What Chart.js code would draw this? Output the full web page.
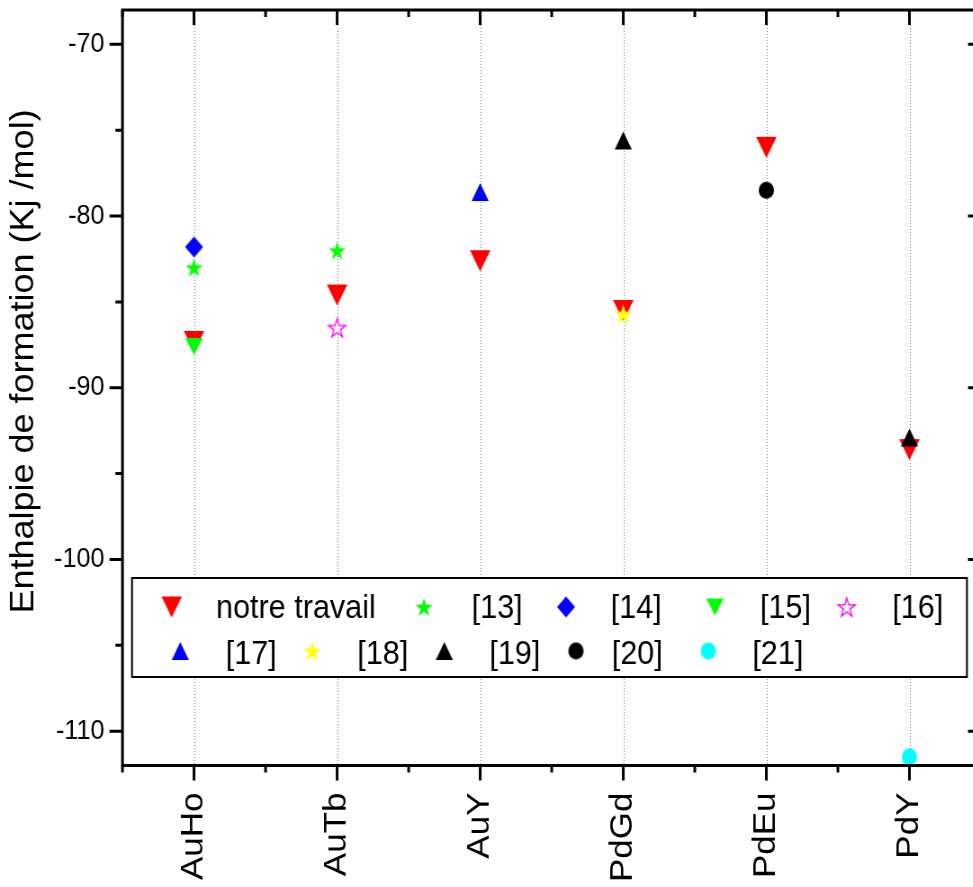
<!DOCTYPE html>
<html>
<head>
<meta charset="utf-8">
<title>Enthalpie de formation</title>
<script src="https://cdn.jsdelivr.net/npm/chart.js@4.4.1/dist/chart.umd.min.js"></script>
<style>
  html, body { margin: 0; padding: 0; background: #fff; overflow: hidden; }
  /* the original figure is squeezed horizontally, so the whole canvas is too */
  #wrap { width: 1100px; height: 887px; transform: scaleX(0.9); transform-origin: 0 0; }
  canvas { display: block; background: #fff; }
</style>
</head>
<body>
<div id="wrap"><canvas id="chart" width="1100" height="887"></canvas></div>
<script>
const categories = ["AuHo", "AuTb", "AuY", "PdGd", "PdEu", "PdY"];
const yTicks = [-110, -100, -90, -80, -70];

// values per category, null = no value
const notreTravail = [-87.3, -84.6, -82.6, -85.5, -76.0, -93.6];
const ref13 = [-83.0, -82.0, null, null, null, null];
const ref14 = [-81.8, null, null, null, null, null];
const ref15 = [-87.6, null, null, null, null, null];
const ref16 = [null, -86.5, null, null, null, null];
const ref17 = [null, null, -78.6, null, null, null];
const ref18 = [null, null, null, -85.7, null, null];
const ref19 = [null, null, null, -75.6, null, -92.9];
const ref20 = [null, null, null, null, -78.5, null];
const ref21 = [null, null, null, null, null, -111.5];

const FONT = "'Liberation Sans', Arial, sans-serif";

// little canvases used as point styles
function sprite(w, h, draw) {
  const c = document.createElement("canvas");
  c.width = Math.ceil(w) + 4;
  c.height = Math.ceil(h) + 4;
  const g = c.getContext("2d");
  g.translate(c.width / 2, c.height / 2);
  draw(g);
  return c;
}
function triDown(w, h, color) {
  return sprite(w, h, g => {
    g.beginPath();
    g.moveTo(-w / 2, -h / 2); g.lineTo(w / 2, -h / 2); g.lineTo(0, h / 2);
    g.closePath(); g.fillStyle = color; g.fill();
  });
}
function triUp(w, h, color) {
  return sprite(w, h, g => {
    g.beginPath();
    g.moveTo(-w / 2, h / 2); g.lineTo(w / 2, h / 2); g.lineTo(0, -h / 2);
    g.closePath(); g.fillStyle = color; g.fill();
  });
}
function diamond(w, h, color) {
  return sprite(w, h, g => {
    g.beginPath();
    g.moveTo(0, -h / 2); g.lineTo(w / 2, 0); g.lineTo(0, h / 2); g.lineTo(-w / 2, 0);
    g.closePath(); g.fillStyle = color; g.fill();
  });
}
function star(R, color, hollow) {
  return sprite(2 * R, 2 * R, g => {
    const shift = 0.0955 * R; // centre the bounding box
    g.beginPath();
    for (let k = 0; k < 10; k++) {
      const r = k % 2 ? R * 0.382 : R;
      const a = -Math.PI / 2 + k * Math.PI / 5;
      const px = Math.cos(a) * r, py = Math.sin(a) * r + shift;
      k ? g.lineTo(px, py) : g.moveTo(px, py);
    }
    g.closePath();
    if (hollow) {
      g.fillStyle = "#fff"; g.fill();
      g.lineWidth = 1.4; g.strokeStyle = color; g.stroke();
    } else {
      g.fillStyle = color; g.fill();
    }
  });
}
function dot(r, color) {
  return sprite(2 * r, 2 * r, g => {
    g.beginPath(); g.arc(0, 0, r, 0, Math.PI * 2);
    g.fillStyle = color; g.fill();
  });
}

const series = [
  { label: "notre travail", values: notreTravail, marker: triDown(22.8, 21, "#ff0000"), order: 1 },
  { label: "[13]", values: ref13, marker: star(10, "#00ff00") },
  { label: "[14]", values: ref14, marker: diamond(20, 21, "#0000ff") },
  { label: "[15]", values: ref15, marker: triDown(19.5, 17, "#00ff00") },
  { label: "[16]", values: ref16, marker: star(10, "#ff00ff", true) },
  { label: "[17]", values: ref17, marker: triUp(19, 18, "#0000ff") },
  { label: "[18]", values: ref18, marker: star(10.3, "#ffff00") },
  { label: "[19]", values: ref19, marker: triUp(19, 18, "#000000") },
  { label: "[20]", values: ref20, marker: dot(8.5, "#000000") },
  { label: "[21]", values: ref21, marker: dot(8.5, "#00ffff") }
];

// dotted vertical lines at each category
const gridLines = {
  id: "gridLines",
  beforeDatasetsDraw(chart) {
    const { ctx, chartArea: a, scales: { x } } = chart;
    ctx.save();
    ctx.strokeStyle = "#808080";
    ctx.lineWidth = 1;
    ctx.setLineDash([1, 2]);
    categories.forEach((_, i) => {
      const px = Math.round(x.getPixelForValue(i)) + 0.5;
      ctx.beginPath();
      ctx.moveTo(px, a.top);
      ctx.lineTo(px, a.bottom);
      ctx.stroke();
    });
    ctx.restore();
  }
};

// box round the plot with major / minor ticks on all four sides
const frame = {
  id: "frame",
  afterDatasetsDraw(chart) {
    const { ctx, chartArea: a, scales: { x, y } } = chart;
    ctx.save();
    ctx.strokeStyle = "#000";
    ctx.lineWidth = 3;
    ctx.strokeRect(a.left, a.top, a.right - a.left, a.bottom - a.top);
    ctx.beginPath();
    for (let v = -0.5; v <= 5.5; v += 0.5) {
      const px = x.getPixelForValue(v);
      const len = Number.isInteger(v) ? 15 : 7;
      ctx.moveTo(px, a.bottom); ctx.lineTo(px, a.bottom + len);
      ctx.moveTo(px, a.top); ctx.lineTo(px, a.top + len);
    }
    for (let v = -110; v <= -70; v += 5) {
      const py = y.getPixelForValue(v);
      const len = v % 10 === 0 ? 14.4 : 7.8;
      ctx.moveTo(a.left, py); ctx.lineTo(a.left - len, py);
      ctx.moveTo(a.right, py); ctx.lineTo(a.right - len, py);
    }
    ctx.stroke();
    ctx.restore();
  }
};

const legendBox = {
  id: "legendBox",
  afterDraw(chart) {
    const { ctx } = chart;
    const box = { left: 146.7, top: 578, right: 1074.4, bottom: 677 };
    // symbol x, text x, row
    const slots = [
      [190.8, 240, 0], [471.1, 524.1, 0], [628.9, 678.6, 0], [794.4, 844.4, 0], [940.8, 991.4, 0],
      [200.3, 250.8, 1], [347, 397, 1], [493.7, 543.7, 1], [640, 679.7, 1], [787, 835.9, 1]
    ];
    const symY = [607, 651], textY = [618, 664];
    ctx.save();
    ctx.fillStyle = "#fff";
    ctx.fillRect(box.left, box.top, box.right - box.left, box.bottom - box.top);
    ctx.lineWidth = 2;
    ctx.strokeStyle = "#000";
    ctx.strokeRect(box.left, box.top, box.right - box.left, box.bottom - box.top);
    ctx.font = "34px " + FONT;
    ctx.fillStyle = "#000";
    ctx.textBaseline = "alphabetic";
    chart.data.datasets.forEach((ds, i) => {
      const [sx, tx, row] = slots[i];
      const m = ds.pointStyle;
      ctx.drawImage(m, sx - m.width / 2, symY[row] - m.height / 2);
      ctx.fillText(ds.label, tx, textY[row]);
    });
    ctx.restore();
  }
};

const yTitle = {
  id: "yTitle",
  afterDraw(chart) {
    const { ctx } = chart;
    ctx.save();
    ctx.translate(26.7, 361.5);
    ctx.rotate(-Math.PI / 2);
    ctx.font = "36px " + FONT;
    ctx.fillStyle = "#000";
    ctx.textAlign = "center";
    ctx.textBaseline = "middle";
    ctx.fillText("Enthalpie de formation (Kj /mol)", 0, 0);
    ctx.restore();
  }
};

new Chart(document.getElementById("chart"), {
  type: "scatter",
  data: {
    datasets: series.map(s => ({
      label: s.label,
      data: s.values
        .map((v, i) => (v === null ? null : { x: i, y: v }))
        .filter(p => p !== null),
      pointStyle: s.marker,
      pointRadius: 9,
      showLine: false,
      order: s.order || 0
    }))
  },
  options: {
    responsive: false,
    devicePixelRatio: 1,
    animation: false,
    events: [],
    layout: { padding: { top: 9, right: 8.3, left: 0, bottom: 0 } },
    plugins: { legend: { display: false }, tooltip: { enabled: false } },
    scales: {
      x: {
        type: "linear",
        min: -0.5,
        max: 5.5,
        grid: { display: false, drawTicks: false },
        border: { display: false },
        afterBuildTicks: s => { s.ticks = categories.map((_, i) => ({ value: i })); },
        afterFit: s => {
          s.height = 121.5;
          s.paddingLeft = 0;
          s.paddingRight = 0;
        },
        ticks: {
          autoSkip: false,
          minRotation: 90,
          maxRotation: 90,
          padding: 27,
          color: "#000",
          font: { family: FONT, size: 35 },
          callback: v => categories[v]
        }
      },
      y: {
        min: -112,
        max: -68,
        grid: { display: false, drawTicks: false },
        border: { display: false },
        afterBuildTicks: s => { s.ticks = yTicks.map(v => ({ value: v })); },
        afterFit: s => {
          s.width = 136.1;
          s.paddingTop = 0;
          s.paddingBottom = 0;
        },
        ticks: {
          padding: 20,
          color: "#000",
          font: { family: FONT, size: 28 },
          callback: v => String(v)
        }
      }
    }
  },
  plugins: [gridLines, frame, legendBox, yTitle]
});
</script>
</body>
</html>
